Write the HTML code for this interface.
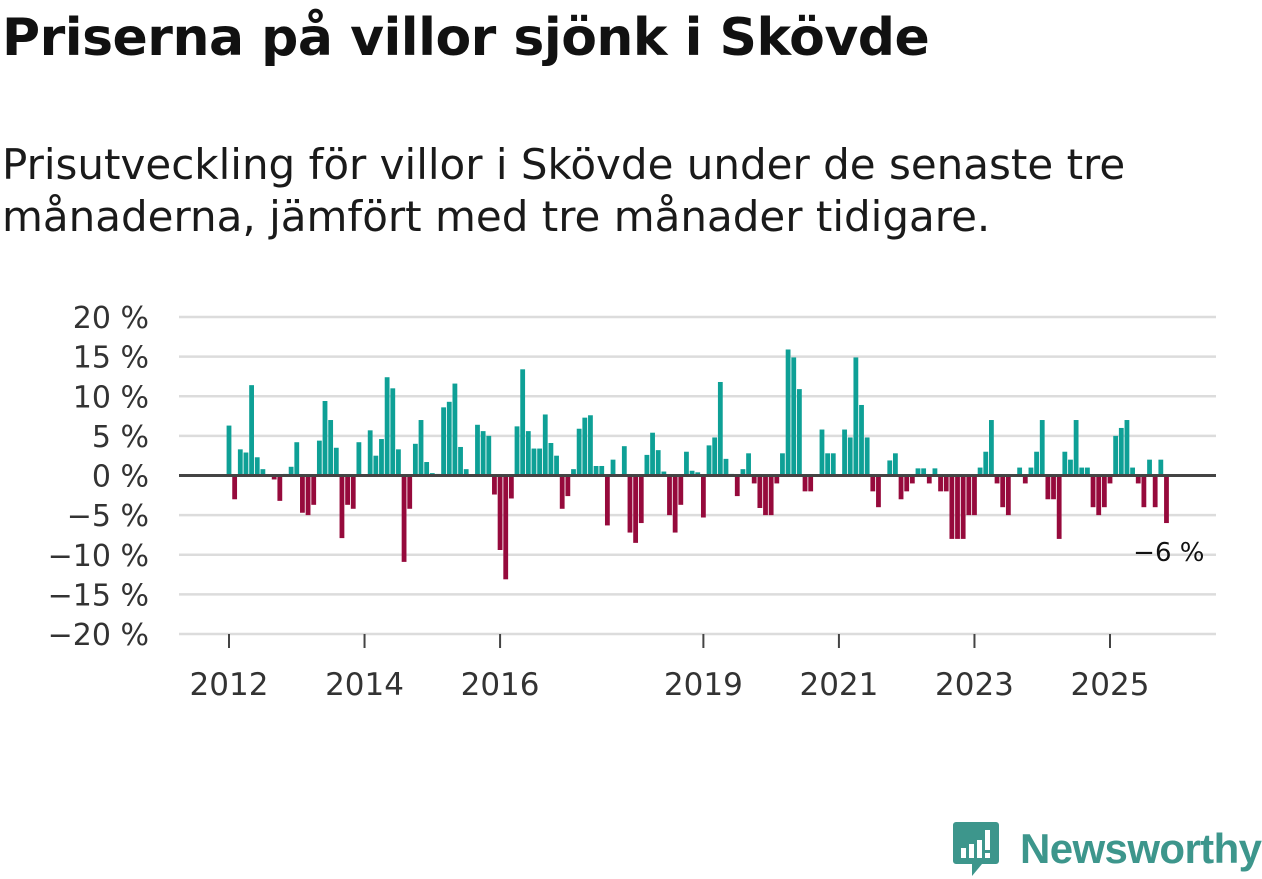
<!DOCTYPE html>
<html><head><meta charset="utf-8"><style>
body{margin:0;width:1262px;height:879px;background:#fff;overflow:hidden;font-family:"DejaVu Sans",sans-serif;color:#111}
h1{position:absolute;left:2px;top:8px;margin:0;font-size:52px;font-weight:bold;letter-spacing:-0.5px;white-space:nowrap}
p.sub{position:absolute;left:2px;top:139px;margin:0;font-size:42px;line-height:52px;color:#1a1a1a;width:1260px;white-space:nowrap;letter-spacing:0px}
</style></head><body>
<h1>Priserna på villor sjönk i Skövde</h1>
<p class="sub">Prisutveckling för villor i Skövde under de senaste tre<br>månaderna, jämfört med tre månader tidigare.</p>
<svg id="chart" width="1262" height="879" style="position:absolute;left:0;top:0"></svg>
<div style="position:absolute;left:952px;top:820px;display:flex;align-items:center;white-space:nowrap">
<svg width="48" height="58" viewBox="0 0 48 58"><path d="M4 2h40a3 3 0 0 1 3 3v36a3 3 0 0 1-3 3H30l-10 12v-12H4a3 3 0 0 1-3-3V5a3 3 0 0 1 3-3z" fill="#3d968c"/><rect x="9" y="28" width="5" height="10" fill="#fff"/><rect x="17" y="24" width="5" height="14" fill="#fff"/><rect x="25" y="20" width="5" height="18" fill="#fff"/><rect x="33" y="10" width="5" height="20" fill="#fff"/><rect x="33" y="33" width="5" height="5" fill="#fff"/></svg>
<span style="font-size:42px;color:#3d968c;margin-left:20px;font-family:'Liberation Sans',sans-serif;font-weight:bold;letter-spacing:-0.6px">Newsworthy</span></div>
<script>
const values=[6.3,-3,3.3,2.9,11.4,2.3,0.8,0,-0.5,-3.2,0.2,1.1,4.2,-4.7,-5,-3.7,4.4,9.4,7,3.5,-7.9,-3.7,-4.2,4.2,0,5.7,2.5,4.6,12.4,11,3.3,-10.9,-4.2,4,7,1.7,0.3,0.2,8.6,9.3,11.6,3.6,0.8,
0,6.4,5.6,5,-2.4,-9.4,-13.1,-2.9,6.2,13.4,5.6,3.4,3.4,7.7,4.1,2.5,-4.2,-2.6,0.8,5.9,7.3,7.6,1.2,1.2,-6.3,2,0,3.7,-7.2,-8.5,-6,2.6,5.4,3.2,0.5,-5,-7.2,-3.7,3,0.6,0.4,-5.3,3.8,
4.8,11.8,2.1,0.2,-2.6,0.8,2.8,-1,-4.1,-5,-5,-1,2.8,15.9,14.9,10.9,-2,-2,0,5.8,2.8,2.8,0,5.8,4.8,14.9,8.9,4.8,-2,-4,0,1.9,2.8,-3,-2,-1,0.9,0.9,-1,0.9,-2,-2,
-8,-8,-8,-5,-5,1,3,7,-1,-4,-5,0,1,-1,1,3,7,-3,-3,-8,3,2,7,1,1,-4,-5,-4,-1,5,6,7,1,-1,-4,2,-4,2,-6];
const yTicks=[20,15,10,5,0,-5,-10,-15,-20];
const xTickYears=[2012,2014,2016,2019,2021,2023,2025];
const startYear=2012;
const lastLabel="−6 %";
const NS="http://www.w3.org/2000/svg";
const svg=document.getElementById('chart');
const FF='DejaVu Sans, sans-serif';
function y(v){return 475.5-v*7.925;}
function x(monthIndex){return 229+monthIndex*(1110-229)/156;}
function mk(t,a){const e=document.createElementNS(NS,t);for(const k in a)e.setAttribute(k,a[k]);svg.appendChild(e);return e;}
yTicks.forEach(t=>{
 if(t!==0){const l=mk('line',{x1:179,x2:1216,y1:y(t),y2:y(t),stroke:'#dcdcdc','stroke-width':2.5});
 
 }
 const tx=mk('text',{x:149,y:y(t)+11,'text-anchor':'end','font-size':30,fill:'#333','font-family':FF});
 tx.textContent=(t<0?'−'+(-t):t)+' %';
 
 
});
values.forEach((v,i)=>{
 if(v===0)return;
 const r=mk('rect',{x:x(i)-2.4,width:4.8,y:Math.min(y(v),y(0)),height:Math.abs(y(v)-y(0)),fill:v>0?'#0ea096':'#960a3c'});
 
 
});
const zl=mk('line',{x1:179,x2:1216,y1:y(0),y2:y(0),stroke:'#444','stroke-width':3});


xTickYears.forEach(yr=>{
 const xi=x((yr-startYear)*12);
 const tk=mk('line',{x1:xi,x2:xi,y1:634,y2:648,stroke:'#444','stroke-width':2});
 
 
 const tx=mk('text',{x:xi,y:695,'text-anchor':'middle','font-size':31,fill:'#333','font-family':FF});
 tx.textContent=yr;
 
 
});
const li=values.length-1;
const lb=mk('text',{x:x(li)+38,y:y(values[li])+38,'text-anchor':'end','font-size':26,fill:'#111','font-family':FF});
lb.textContent=lastLabel;


</script>
</body></html>
